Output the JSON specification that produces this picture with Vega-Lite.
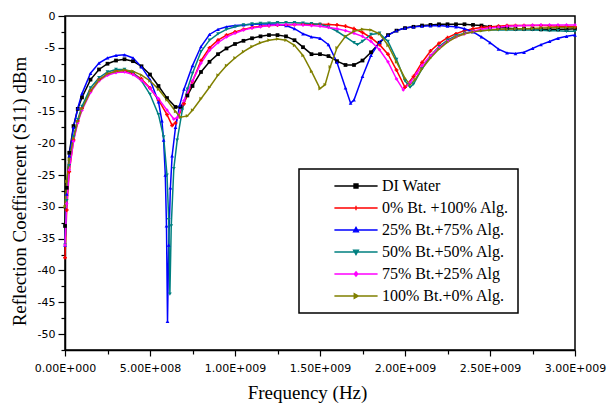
{
"$schema":"https://vega.github.io/schema/vega-lite/v6.json",
"autosize":{"type":"none"},
"padding":{"left":65,"top":16,"right":35,"bottom":54},
"width":510,"height":334,
"background":"white",
"config":{
 "view":{"stroke":"black","strokeWidth":1.5},
 "axis":{"grid":false,"domainColor":"black","domainWidth":1.5,"tickColor":"black","tickWidth":1.2,"labelColor":"black","titleColor":"black","titleFontWeight":"normal","labelFont":"DejaVu Sans","labelFontSize":11,"titleFont":"Liberation Serif","titleFontSize":19,"labelOverlap":false,"labelFlush":false}
},
"data":{"values":[
{"s":"DI Water","f":0,"v":-33},{"s":"DI Water","f":1e7,"v":-27},{"s":"DI Water","f":2.5e7,"v":-21.5},{"s":"DI Water","f":5e7,"v":-17.3},{"s":"DI Water","f":7.5e7,"v":-14.6},{"s":"DI Water","f":1e8,"v":-12.8},{"s":"DI Water","f":1.5e8,"v":-10.0},{"s":"DI Water","f":2e8,"v":-8.4},{"s":"DI Water","f":2.5e8,"v":-7.5},{"s":"DI Water","f":3e8,"v":-7.0},{"s":"DI Water","f":3.5e8,"v":-6.8},{"s":"DI Water","f":4e8,"v":-7.1},{"s":"DI Water","f":4.5e8,"v":-7.9},{"s":"DI Water","f":5e8,"v":-9.2},{"s":"DI Water","f":5.5e8,"v":-11.0},{"s":"DI Water","f":6e8,"v":-12.9},{"s":"DI Water","f":6.5e8,"v":-14.3},{"s":"DI Water","f":6.8e8,"v":-14.3},{"s":"DI Water","f":7.2e8,"v":-12.5},{"s":"DI Water","f":7.5e8,"v":-11.0},{"s":"DI Water","f":8e8,"v":-8.8},{"s":"DI Water","f":8.5e8,"v":-7.2},{"s":"DI Water","f":9e8,"v":-6.0},{"s":"DI Water","f":9.5e8,"v":-5.1},{"s":"DI Water","f":1e9,"v":-4.4},{"s":"DI Water","f":1.05e9,"v":-3.9},{"s":"DI Water","f":1.1e9,"v":-3.5},{"s":"DI Water","f":1.15e9,"v":-3.2},{"s":"DI Water","f":1.2e9,"v":-3.0},{"s":"DI Water","f":1.25e9,"v":-3.0},{"s":"DI Water","f":1.3e9,"v":-3.2},{"s":"DI Water","f":1.35e9,"v":-3.8},{"s":"DI Water","f":1.4e9,"v":-4.9},{"s":"DI Water","f":1.45e9,"v":-6.0},{"s":"DI Water","f":1.5e9,"v":-6.0},{"s":"DI Water","f":1.55e9,"v":-6.3},{"s":"DI Water","f":1.6e9,"v":-7.1},{"s":"DI Water","f":1.65e9,"v":-7.7},{"s":"DI Water","f":1.7e9,"v":-7.7},{"s":"DI Water","f":1.75e9,"v":-7.0},{"s":"DI Water","f":1.8e9,"v":-5.7},{"s":"DI Water","f":1.85e9,"v":-4.2},{"s":"DI Water","f":1.9e9,"v":-3.0},{"s":"DI Water","f":1.95e9,"v":-2.3},{"s":"DI Water","f":2e9,"v":-1.9},{"s":"DI Water","f":2.05e9,"v":-1.7},{"s":"DI Water","f":2.1e9,"v":-1.5},{"s":"DI Water","f":2.15e9,"v":-1.4},{"s":"DI Water","f":2.2e9,"v":-1.3},{"s":"DI Water","f":2.25e9,"v":-1.3},{"s":"DI Water","f":2.3e9,"v":-1.3},{"s":"DI Water","f":2.35e9,"v":-1.3},{"s":"DI Water","f":2.4e9,"v":-1.4},{"s":"DI Water","f":2.45e9,"v":-1.5},{"s":"DI Water","f":2.5e9,"v":-1.7},{"s":"DI Water","f":2.55e9,"v":-1.8},{"s":"DI Water","f":2.6e9,"v":-1.9},{"s":"DI Water","f":2.65e9,"v":-2.0},{"s":"DI Water","f":2.7e9,"v":-2.0},{"s":"DI Water","f":2.75e9,"v":-2.0},{"s":"DI Water","f":2.8e9,"v":-2.1},{"s":"DI Water","f":2.85e9,"v":-2.1},{"s":"DI Water","f":2.9e9,"v":-2.1},{"s":"DI Water","f":2.95e9,"v":-2.1},{"s":"DI Water","f":3e9,"v":-2.0},

{"s":"0% Bt. +100% Alg.","f":0,"v":-38},{"s":"0% Bt. +100% Alg.","f":1e7,"v":-30.5},{"s":"0% Bt. +100% Alg.","f":2.5e7,"v":-24.5},{"s":"0% Bt. +100% Alg.","f":5e7,"v":-19.5},{"s":"0% Bt. +100% Alg.","f":7.5e7,"v":-16.5},{"s":"0% Bt. +100% Alg.","f":1e8,"v":-14.5},{"s":"0% Bt. +100% Alg.","f":1.5e8,"v":-11.8},{"s":"0% Bt. +100% Alg.","f":2e8,"v":-10.0},{"s":"0% Bt. +100% Alg.","f":2.5e8,"v":-9.1},{"s":"0% Bt. +100% Alg.","f":3e8,"v":-8.7},{"s":"0% Bt. +100% Alg.","f":3.5e8,"v":-8.6},{"s":"0% Bt. +100% Alg.","f":4e8,"v":-9.0},{"s":"0% Bt. +100% Alg.","f":4.5e8,"v":-9.9},{"s":"0% Bt. +100% Alg.","f":5e8,"v":-11.3},{"s":"0% Bt. +100% Alg.","f":5.5e8,"v":-13.2},{"s":"0% Bt. +100% Alg.","f":6e8,"v":-15.5},{"s":"0% Bt. +100% Alg.","f":6.3e8,"v":-17.2},{"s":"0% Bt. +100% Alg.","f":6.5e8,"v":-16.8},{"s":"0% Bt. +100% Alg.","f":7e8,"v":-13.8},{"s":"0% Bt. +100% Alg.","f":7.5e8,"v":-10.3},{"s":"0% Bt. +100% Alg.","f":8e8,"v":-7.0},{"s":"0% Bt. +100% Alg.","f":8.5e8,"v":-5.0},{"s":"0% Bt. +100% Alg.","f":9e8,"v":-3.8},{"s":"0% Bt. +100% Alg.","f":9.5e8,"v":-3.0},{"s":"0% Bt. +100% Alg.","f":1e9,"v":-2.5},{"s":"0% Bt. +100% Alg.","f":1.05e9,"v":-2.1},{"s":"0% Bt. +100% Alg.","f":1.1e9,"v":-1.8},{"s":"0% Bt. +100% Alg.","f":1.15e9,"v":-1.6},{"s":"0% Bt. +100% Alg.","f":1.2e9,"v":-1.5},{"s":"0% Bt. +100% Alg.","f":1.25e9,"v":-1.45},{"s":"0% Bt. +100% Alg.","f":1.3e9,"v":-1.4},{"s":"0% Bt. +100% Alg.","f":1.35e9,"v":-1.35},{"s":"0% Bt. +100% Alg.","f":1.4e9,"v":-1.3},{"s":"0% Bt. +100% Alg.","f":1.45e9,"v":-1.3},{"s":"0% Bt. +100% Alg.","f":1.5e9,"v":-1.3},{"s":"0% Bt. +100% Alg.","f":1.55e9,"v":-1.35},{"s":"0% Bt. +100% Alg.","f":1.6e9,"v":-1.4},{"s":"0% Bt. +100% Alg.","f":1.65e9,"v":-1.6},{"s":"0% Bt. +100% Alg.","f":1.7e9,"v":-2.0},{"s":"0% Bt. +100% Alg.","f":1.75e9,"v":-2.6},{"s":"0% Bt. +100% Alg.","f":1.8e9,"v":-3.4},{"s":"0% Bt. +100% Alg.","f":1.85e9,"v":-4.5},{"s":"0% Bt. +100% Alg.","f":1.9e9,"v":-6.0},{"s":"0% Bt. +100% Alg.","f":1.95e9,"v":-8.5},{"s":"0% Bt. +100% Alg.","f":2e9,"v":-11.2},{"s":"0% Bt. +100% Alg.","f":2.05e9,"v":-9.5},{"s":"0% Bt. +100% Alg.","f":2.1e9,"v":-7.3},{"s":"0% Bt. +100% Alg.","f":2.15e9,"v":-5.5},{"s":"0% Bt. +100% Alg.","f":2.2e9,"v":-4.3},{"s":"0% Bt. +100% Alg.","f":2.25e9,"v":-3.4},{"s":"0% Bt. +100% Alg.","f":2.3e9,"v":-2.8},{"s":"0% Bt. +100% Alg.","f":2.35e9,"v":-2.3},{"s":"0% Bt. +100% Alg.","f":2.4e9,"v":-2.0},{"s":"0% Bt. +100% Alg.","f":2.45e9,"v":-1.8},{"s":"0% Bt. +100% Alg.","f":2.5e9,"v":-1.7},{"s":"0% Bt. +100% Alg.","f":2.55e9,"v":-1.6},{"s":"0% Bt. +100% Alg.","f":2.6e9,"v":-1.5},{"s":"0% Bt. +100% Alg.","f":2.65e9,"v":-1.5},{"s":"0% Bt. +100% Alg.","f":2.7e9,"v":-1.5},{"s":"0% Bt. +100% Alg.","f":2.75e9,"v":-1.5},{"s":"0% Bt. +100% Alg.","f":2.8e9,"v":-1.5},{"s":"0% Bt. +100% Alg.","f":2.85e9,"v":-1.55},{"s":"0% Bt. +100% Alg.","f":2.9e9,"v":-1.6},{"s":"0% Bt. +100% Alg.","f":2.95e9,"v":-1.65},{"s":"0% Bt. +100% Alg.","f":3e9,"v":-1.7},

{"s":"25% Bt.+75% Alg.","f":0,"v":-36},{"s":"25% Bt.+75% Alg.","f":1e7,"v":-28},{"s":"25% Bt.+75% Alg.","f":2.5e7,"v":-22},{"s":"25% Bt.+75% Alg.","f":5e7,"v":-17.5},{"s":"25% Bt.+75% Alg.","f":7.5e7,"v":-14.5},{"s":"25% Bt.+75% Alg.","f":1e8,"v":-12.2},{"s":"25% Bt.+75% Alg.","f":1.5e8,"v":-9.0},{"s":"25% Bt.+75% Alg.","f":2e8,"v":-7.4},{"s":"25% Bt.+75% Alg.","f":2.5e8,"v":-6.6},{"s":"25% Bt.+75% Alg.","f":3e8,"v":-6.2},{"s":"25% Bt.+75% Alg.","f":3.5e8,"v":-6.1},{"s":"25% Bt.+75% Alg.","f":4e8,"v":-6.6},{"s":"25% Bt.+75% Alg.","f":4.5e8,"v":-8.0},{"s":"25% Bt.+75% Alg.","f":5e8,"v":-10.0},{"s":"25% Bt.+75% Alg.","f":5.5e8,"v":-13.5},{"s":"25% Bt.+75% Alg.","f":5.7e8,"v":-16.5},{"s":"25% Bt.+75% Alg.","f":5.8e8,"v":-19.5},{"s":"25% Bt.+75% Alg.","f":5.9e8,"v":-25},{"s":"25% Bt.+75% Alg.","f":5.97e8,"v":-33},{"s":"25% Bt.+75% Alg.","f":6.03e8,"v":-48},{"s":"25% Bt.+75% Alg.","f":6.1e8,"v":-36},{"s":"25% Bt.+75% Alg.","f":6.2e8,"v":-27},{"s":"25% Bt.+75% Alg.","f":6.3e8,"v":-22},{"s":"25% Bt.+75% Alg.","f":6.5e8,"v":-17.5},{"s":"25% Bt.+75% Alg.","f":6.75e8,"v":-14},{"s":"25% Bt.+75% Alg.","f":7e8,"v":-11.5},{"s":"25% Bt.+75% Alg.","f":7.5e8,"v":-7.8},{"s":"25% Bt.+75% Alg.","f":8e8,"v":-4.8},{"s":"25% Bt.+75% Alg.","f":8.5e8,"v":-2.9},{"s":"25% Bt.+75% Alg.","f":9e8,"v":-2.1},{"s":"25% Bt.+75% Alg.","f":9.5e8,"v":-1.7},{"s":"25% Bt.+75% Alg.","f":1e9,"v":-1.5},{"s":"25% Bt.+75% Alg.","f":1.05e9,"v":-1.4},{"s":"25% Bt.+75% Alg.","f":1.1e9,"v":-1.3},{"s":"25% Bt.+75% Alg.","f":1.15e9,"v":-1.25},{"s":"25% Bt.+75% Alg.","f":1.2e9,"v":-1.25},{"s":"25% Bt.+75% Alg.","f":1.25e9,"v":-1.3},{"s":"25% Bt.+75% Alg.","f":1.3e9,"v":-1.5},{"s":"25% Bt.+75% Alg.","f":1.35e9,"v":-2.0},{"s":"25% Bt.+75% Alg.","f":1.4e9,"v":-2.8},{"s":"25% Bt.+75% Alg.","f":1.45e9,"v":-3.3},{"s":"25% Bt.+75% Alg.","f":1.5e9,"v":-3.5},{"s":"25% Bt.+75% Alg.","f":1.55e9,"v":-4.5},{"s":"25% Bt.+75% Alg.","f":1.6e9,"v":-7.3},{"s":"25% Bt.+75% Alg.","f":1.65e9,"v":-11.3},{"s":"25% Bt.+75% Alg.","f":1.68e9,"v":-13.7},{"s":"25% Bt.+75% Alg.","f":1.7e9,"v":-13.2},{"s":"25% Bt.+75% Alg.","f":1.75e9,"v":-9.5},{"s":"25% Bt.+75% Alg.","f":1.8e9,"v":-6.2},{"s":"25% Bt.+75% Alg.","f":1.85e9,"v":-4.1},{"s":"25% Bt.+75% Alg.","f":1.9e9,"v":-3.0},{"s":"25% Bt.+75% Alg.","f":1.95e9,"v":-2.3},{"s":"25% Bt.+75% Alg.","f":2e9,"v":-1.9},{"s":"25% Bt.+75% Alg.","f":2.05e9,"v":-1.7},{"s":"25% Bt.+75% Alg.","f":2.1e9,"v":-1.6},{"s":"25% Bt.+75% Alg.","f":2.15e9,"v":-1.55},{"s":"25% Bt.+75% Alg.","f":2.2e9,"v":-1.5},{"s":"25% Bt.+75% Alg.","f":2.25e9,"v":-1.6},{"s":"25% Bt.+75% Alg.","f":2.3e9,"v":-1.7},{"s":"25% Bt.+75% Alg.","f":2.35e9,"v":-2.0},{"s":"25% Bt.+75% Alg.","f":2.4e9,"v":-2.5},{"s":"25% Bt.+75% Alg.","f":2.45e9,"v":-3.3},{"s":"25% Bt.+75% Alg.","f":2.5e9,"v":-4.2},{"s":"25% Bt.+75% Alg.","f":2.55e9,"v":-5.2},{"s":"25% Bt.+75% Alg.","f":2.6e9,"v":-5.8},{"s":"25% Bt.+75% Alg.","f":2.65e9,"v":-5.9},{"s":"25% Bt.+75% Alg.","f":2.7e9,"v":-5.7},{"s":"25% Bt.+75% Alg.","f":2.75e9,"v":-5.1},{"s":"25% Bt.+75% Alg.","f":2.8e9,"v":-4.5},{"s":"25% Bt.+75% Alg.","f":2.85e9,"v":-4.0},{"s":"25% Bt.+75% Alg.","f":2.9e9,"v":-3.5},{"s":"25% Bt.+75% Alg.","f":2.95e9,"v":-3.2},{"s":"25% Bt.+75% Alg.","f":3e9,"v":-3.0},

{"s":"50% Bt.+50% Alg.","f":0,"v":-36},{"s":"50% Bt.+50% Alg.","f":1e7,"v":-29},{"s":"50% Bt.+50% Alg.","f":2.5e7,"v":-23.5},{"s":"50% Bt.+50% Alg.","f":5e7,"v":-19},{"s":"50% Bt.+50% Alg.","f":7.5e7,"v":-16.3},{"s":"50% Bt.+50% Alg.","f":1e8,"v":-14.2},{"s":"50% Bt.+50% Alg.","f":1.5e8,"v":-11.3},{"s":"50% Bt.+50% Alg.","f":2e8,"v":-9.7},{"s":"50% Bt.+50% Alg.","f":2.5e8,"v":-8.8},{"s":"50% Bt.+50% Alg.","f":3e8,"v":-8.4},{"s":"50% Bt.+50% Alg.","f":3.5e8,"v":-8.4},{"s":"50% Bt.+50% Alg.","f":4e8,"v":-8.9},{"s":"50% Bt.+50% Alg.","f":4.5e8,"v":-10.2},{"s":"50% Bt.+50% Alg.","f":5e8,"v":-12.3},{"s":"50% Bt.+50% Alg.","f":5.5e8,"v":-15.5},{"s":"50% Bt.+50% Alg.","f":5.8e8,"v":-19},{"s":"50% Bt.+50% Alg.","f":6e8,"v":-25},{"s":"50% Bt.+50% Alg.","f":6.1e8,"v":-32},{"s":"50% Bt.+50% Alg.","f":6.17e8,"v":-43.7},{"s":"50% Bt.+50% Alg.","f":6.25e8,"v":-33},{"s":"50% Bt.+50% Alg.","f":6.4e8,"v":-24},{"s":"50% Bt.+50% Alg.","f":6.6e8,"v":-19.5},{"s":"50% Bt.+50% Alg.","f":6.9e8,"v":-14.8},{"s":"50% Bt.+50% Alg.","f":7.2e8,"v":-11.5},{"s":"50% Bt.+50% Alg.","f":7.5e8,"v":-9.0},{"s":"50% Bt.+50% Alg.","f":8e8,"v":-5.6},{"s":"50% Bt.+50% Alg.","f":8.5e8,"v":-3.8},{"s":"50% Bt.+50% Alg.","f":9e8,"v":-2.8},{"s":"50% Bt.+50% Alg.","f":9.5e8,"v":-2.1},{"s":"50% Bt.+50% Alg.","f":1e9,"v":-1.7},{"s":"50% Bt.+50% Alg.","f":1.05e9,"v":-1.4},{"s":"50% Bt.+50% Alg.","f":1.1e9,"v":-1.25},{"s":"50% Bt.+50% Alg.","f":1.15e9,"v":-1.15},{"s":"50% Bt.+50% Alg.","f":1.2e9,"v":-1.1},{"s":"50% Bt.+50% Alg.","f":1.25e9,"v":-1.05},{"s":"50% Bt.+50% Alg.","f":1.3e9,"v":-1.05},{"s":"50% Bt.+50% Alg.","f":1.35e9,"v":-1.05},{"s":"50% Bt.+50% Alg.","f":1.4e9,"v":-1.1},{"s":"50% Bt.+50% Alg.","f":1.45e9,"v":-1.2},{"s":"50% Bt.+50% Alg.","f":1.5e9,"v":-1.3},{"s":"50% Bt.+50% Alg.","f":1.55e9,"v":-1.7},{"s":"50% Bt.+50% Alg.","f":1.6e9,"v":-2.4},{"s":"50% Bt.+50% Alg.","f":1.65e9,"v":-3.3},{"s":"50% Bt.+50% Alg.","f":1.7e9,"v":-4.2},{"s":"50% Bt.+50% Alg.","f":1.72e9,"v":-4.5},{"s":"50% Bt.+50% Alg.","f":1.75e9,"v":-4.0},{"s":"50% Bt.+50% Alg.","f":1.8e9,"v":-2.9},{"s":"50% Bt.+50% Alg.","f":1.85e9,"v":-2.7},{"s":"50% Bt.+50% Alg.","f":1.9e9,"v":-4.0},{"s":"50% Bt.+50% Alg.","f":1.95e9,"v":-6.8},{"s":"50% Bt.+50% Alg.","f":2e9,"v":-10.2},{"s":"50% Bt.+50% Alg.","f":2.03e9,"v":-11.2},{"s":"50% Bt.+50% Alg.","f":2.05e9,"v":-10.7},{"s":"50% Bt.+50% Alg.","f":2.1e9,"v":-8.3},{"s":"50% Bt.+50% Alg.","f":2.15e9,"v":-6.3},{"s":"50% Bt.+50% Alg.","f":2.2e9,"v":-4.8},{"s":"50% Bt.+50% Alg.","f":2.25e9,"v":-3.8},{"s":"50% Bt.+50% Alg.","f":2.3e9,"v":-3.1},{"s":"50% Bt.+50% Alg.","f":2.35e9,"v":-2.7},{"s":"50% Bt.+50% Alg.","f":2.4e9,"v":-2.4},{"s":"50% Bt.+50% Alg.","f":2.45e9,"v":-2.3},{"s":"50% Bt.+50% Alg.","f":2.5e9,"v":-2.2},{"s":"50% Bt.+50% Alg.","f":2.55e9,"v":-2.2},{"s":"50% Bt.+50% Alg.","f":2.6e9,"v":-2.2},{"s":"50% Bt.+50% Alg.","f":2.65e9,"v":-2.2},{"s":"50% Bt.+50% Alg.","f":2.7e9,"v":-2.2},{"s":"50% Bt.+50% Alg.","f":2.75e9,"v":-2.2},{"s":"50% Bt.+50% Alg.","f":2.8e9,"v":-2.25},{"s":"50% Bt.+50% Alg.","f":2.85e9,"v":-2.3},{"s":"50% Bt.+50% Alg.","f":2.9e9,"v":-2.3},{"s":"50% Bt.+50% Alg.","f":2.95e9,"v":-2.4},{"s":"50% Bt.+50% Alg.","f":3e9,"v":-2.4},

{"s":"75% Bt.+25% Alg","f":0,"v":-36},{"s":"75% Bt.+25% Alg","f":1e7,"v":-29.5},{"s":"75% Bt.+25% Alg","f":2.5e7,"v":-24.2},{"s":"75% Bt.+25% Alg","f":5e7,"v":-19.7},{"s":"75% Bt.+25% Alg","f":7.5e7,"v":-16.8},{"s":"75% Bt.+25% Alg","f":1e8,"v":-14.8},{"s":"75% Bt.+25% Alg","f":1.5e8,"v":-12.0},{"s":"75% Bt.+25% Alg","f":2e8,"v":-10.2},{"s":"75% Bt.+25% Alg","f":2.5e8,"v":-9.3},{"s":"75% Bt.+25% Alg","f":3e8,"v":-8.9},{"s":"75% Bt.+25% Alg","f":3.5e8,"v":-8.8},{"s":"75% Bt.+25% Alg","f":4e8,"v":-9.2},{"s":"75% Bt.+25% Alg","f":4.5e8,"v":-10.1},{"s":"75% Bt.+25% Alg","f":5e8,"v":-11.4},{"s":"75% Bt.+25% Alg","f":5.5e8,"v":-13.0},{"s":"75% Bt.+25% Alg","f":6e8,"v":-14.8},{"s":"75% Bt.+25% Alg","f":6.4e8,"v":-16.2},{"s":"75% Bt.+25% Alg","f":6.6e8,"v":-16.0},{"s":"75% Bt.+25% Alg","f":7e8,"v":-13.3},{"s":"75% Bt.+25% Alg","f":7.5e8,"v":-10.2},{"s":"75% Bt.+25% Alg","f":8e8,"v":-7.4},{"s":"75% Bt.+25% Alg","f":8.5e8,"v":-5.4},{"s":"75% Bt.+25% Alg","f":9e8,"v":-4.2},{"s":"75% Bt.+25% Alg","f":9.5e8,"v":-3.3},{"s":"75% Bt.+25% Alg","f":1e9,"v":-2.7},{"s":"75% Bt.+25% Alg","f":1.05e9,"v":-2.2},{"s":"75% Bt.+25% Alg","f":1.1e9,"v":-1.9},{"s":"75% Bt.+25% Alg","f":1.15e9,"v":-1.7},{"s":"75% Bt.+25% Alg","f":1.2e9,"v":-1.5},{"s":"75% Bt.+25% Alg","f":1.25e9,"v":-1.4},{"s":"75% Bt.+25% Alg","f":1.3e9,"v":-1.35},{"s":"75% Bt.+25% Alg","f":1.35e9,"v":-1.35},{"s":"75% Bt.+25% Alg","f":1.4e9,"v":-1.4},{"s":"75% Bt.+25% Alg","f":1.45e9,"v":-1.5},{"s":"75% Bt.+25% Alg","f":1.5e9,"v":-1.6},{"s":"75% Bt.+25% Alg","f":1.55e9,"v":-1.8},{"s":"75% Bt.+25% Alg","f":1.6e9,"v":-2.0},{"s":"75% Bt.+25% Alg","f":1.65e9,"v":-2.3},{"s":"75% Bt.+25% Alg","f":1.7e9,"v":-2.7},{"s":"75% Bt.+25% Alg","f":1.75e9,"v":-3.2},{"s":"75% Bt.+25% Alg","f":1.8e9,"v":-4.0},{"s":"75% Bt.+25% Alg","f":1.85e9,"v":-5.3},{"s":"75% Bt.+25% Alg","f":1.9e9,"v":-7.2},{"s":"75% Bt.+25% Alg","f":1.95e9,"v":-9.9},{"s":"75% Bt.+25% Alg","f":1.99e9,"v":-11.6},{"s":"75% Bt.+25% Alg","f":2.03e9,"v":-10.5},{"s":"75% Bt.+25% Alg","f":2.07e9,"v":-9.0},{"s":"75% Bt.+25% Alg","f":2.1e9,"v":-7.8},{"s":"75% Bt.+25% Alg","f":2.15e9,"v":-6.2},{"s":"75% Bt.+25% Alg","f":2.2e9,"v":-5.0},{"s":"75% Bt.+25% Alg","f":2.25e9,"v":-4.0},{"s":"75% Bt.+25% Alg","f":2.3e9,"v":-3.3},{"s":"75% Bt.+25% Alg","f":2.35e9,"v":-2.8},{"s":"75% Bt.+25% Alg","f":2.4e9,"v":-2.4},{"s":"75% Bt.+25% Alg","f":2.45e9,"v":-2.1},{"s":"75% Bt.+25% Alg","f":2.5e9,"v":-1.9},{"s":"75% Bt.+25% Alg","f":2.55e9,"v":-1.75},{"s":"75% Bt.+25% Alg","f":2.6e9,"v":-1.6},{"s":"75% Bt.+25% Alg","f":2.65e9,"v":-1.55},{"s":"75% Bt.+25% Alg","f":2.7e9,"v":-1.5},{"s":"75% Bt.+25% Alg","f":2.75e9,"v":-1.45},{"s":"75% Bt.+25% Alg","f":2.8e9,"v":-1.4},{"s":"75% Bt.+25% Alg","f":2.85e9,"v":-1.4},{"s":"75% Bt.+25% Alg","f":2.9e9,"v":-1.4},{"s":"75% Bt.+25% Alg","f":2.95e9,"v":-1.4},{"s":"75% Bt.+25% Alg","f":3e9,"v":-1.4},

{"s":"100% Bt.+0% Alg.","f":0,"v":-30},{"s":"100% Bt.+0% Alg.","f":1e7,"v":-26},{"s":"100% Bt.+0% Alg.","f":2.5e7,"v":-22.5},{"s":"100% Bt.+0% Alg.","f":5e7,"v":-19.2},{"s":"100% Bt.+0% Alg.","f":7.5e7,"v":-16.6},{"s":"100% Bt.+0% Alg.","f":1e8,"v":-14.6},{"s":"100% Bt.+0% Alg.","f":1.5e8,"v":-11.8},{"s":"100% Bt.+0% Alg.","f":2e8,"v":-10.1},{"s":"100% Bt.+0% Alg.","f":2.5e8,"v":-9.1},{"s":"100% Bt.+0% Alg.","f":3e8,"v":-8.7},{"s":"100% Bt.+0% Alg.","f":3.5e8,"v":-8.5},{"s":"100% Bt.+0% Alg.","f":4e8,"v":-8.7},{"s":"100% Bt.+0% Alg.","f":4.5e8,"v":-9.3},{"s":"100% Bt.+0% Alg.","f":5e8,"v":-10.2},{"s":"100% Bt.+0% Alg.","f":5.5e8,"v":-11.5},{"s":"100% Bt.+0% Alg.","f":6e8,"v":-13.2},{"s":"100% Bt.+0% Alg.","f":6.5e8,"v":-15.0},{"s":"100% Bt.+0% Alg.","f":6.8e8,"v":-15.9},{"s":"100% Bt.+0% Alg.","f":7.2e8,"v":-15.7},{"s":"100% Bt.+0% Alg.","f":7.5e8,"v":-14.8},{"s":"100% Bt.+0% Alg.","f":8e8,"v":-13.0},{"s":"100% Bt.+0% Alg.","f":8.5e8,"v":-11.2},{"s":"100% Bt.+0% Alg.","f":9e8,"v":-9.3},{"s":"100% Bt.+0% Alg.","f":9.5e8,"v":-7.8},{"s":"100% Bt.+0% Alg.","f":1e9,"v":-6.6},{"s":"100% Bt.+0% Alg.","f":1.05e9,"v":-5.6},{"s":"100% Bt.+0% Alg.","f":1.1e9,"v":-4.8},{"s":"100% Bt.+0% Alg.","f":1.15e9,"v":-4.2},{"s":"100% Bt.+0% Alg.","f":1.2e9,"v":-3.8},{"s":"100% Bt.+0% Alg.","f":1.25e9,"v":-3.6},{"s":"100% Bt.+0% Alg.","f":1.3e9,"v":-3.8},{"s":"100% Bt.+0% Alg.","f":1.35e9,"v":-4.6},{"s":"100% Bt.+0% Alg.","f":1.4e9,"v":-6.2},{"s":"100% Bt.+0% Alg.","f":1.45e9,"v":-8.7},{"s":"100% Bt.+0% Alg.","f":1.5e9,"v":-11.4},{"s":"100% Bt.+0% Alg.","f":1.53e9,"v":-10.8},{"s":"100% Bt.+0% Alg.","f":1.56e9,"v":-8.0},{"s":"100% Bt.+0% Alg.","f":1.6e9,"v":-5.0},{"s":"100% Bt.+0% Alg.","f":1.65e9,"v":-3.2},{"s":"100% Bt.+0% Alg.","f":1.7e9,"v":-2.4},{"s":"100% Bt.+0% Alg.","f":1.75e9,"v":-2.1},{"s":"100% Bt.+0% Alg.","f":1.8e9,"v":-2.2},{"s":"100% Bt.+0% Alg.","f":1.85e9,"v":-2.8},{"s":"100% Bt.+0% Alg.","f":1.9e9,"v":-4.6},{"s":"100% Bt.+0% Alg.","f":1.95e9,"v":-7.2},{"s":"100% Bt.+0% Alg.","f":2e9,"v":-9.8},{"s":"100% Bt.+0% Alg.","f":2.03e9,"v":-10.8},{"s":"100% Bt.+0% Alg.","f":2.06e9,"v":-10.0},{"s":"100% Bt.+0% Alg.","f":2.1e9,"v":-8.3},{"s":"100% Bt.+0% Alg.","f":2.15e9,"v":-6.6},{"s":"100% Bt.+0% Alg.","f":2.2e9,"v":-5.2},{"s":"100% Bt.+0% Alg.","f":2.25e9,"v":-4.1},{"s":"100% Bt.+0% Alg.","f":2.3e9,"v":-3.3},{"s":"100% Bt.+0% Alg.","f":2.35e9,"v":-2.8},{"s":"100% Bt.+0% Alg.","f":2.4e9,"v":-2.5},{"s":"100% Bt.+0% Alg.","f":2.45e9,"v":-2.3},{"s":"100% Bt.+0% Alg.","f":2.5e9,"v":-2.2},{"s":"100% Bt.+0% Alg.","f":2.55e9,"v":-2.1},{"s":"100% Bt.+0% Alg.","f":2.6e9,"v":-2.1},{"s":"100% Bt.+0% Alg.","f":2.65e9,"v":-2.0},{"s":"100% Bt.+0% Alg.","f":2.7e9,"v":-2.0},{"s":"100% Bt.+0% Alg.","f":2.75e9,"v":-1.95},{"s":"100% Bt.+0% Alg.","f":2.8e9,"v":-1.9},{"s":"100% Bt.+0% Alg.","f":2.85e9,"v":-1.85},{"s":"100% Bt.+0% Alg.","f":2.9e9,"v":-1.8},{"s":"100% Bt.+0% Alg.","f":2.95e9,"v":-1.8},{"s":"100% Bt.+0% Alg.","f":3e9,"v":-1.8}
]},
"encoding":{
 "x":{"field":"f","type":"quantitative","scale":{"domain":[0,3000000000],"nice":false,"zero":false},
  "axis":{"title":"Frequency (Hz)","values":[0,250000000,500000000,750000000,1000000000,1250000000,1500000000,1750000000,2000000000,2250000000,2500000000,2750000000,3000000000],
   "labelExpr":"datum.value % 500000000 !== 0 ? '' : datum.value === 0 ? '0.00E+000' : datum.value < 1000000000 ? format(datum.value/100000000,'.2f') + 'E+008' : format(datum.value/1000000000,'.2f') + 'E+009'",
   "tickSize":{"condition":{"test":"datum.value % 500000000 === 0","value":6},"value":4},
   "labelPadding":6,"titlePadding":10,"titleX":242}},
 "y":{"field":"v","type":"quantitative","scale":{"domain":[-52.5,0],"nice":false,"zero":false},
  "axis":{"title":"Reflection Coeffiencent (S11) dBm","values":[-52.5,-50,-47.5,-45,-42.5,-40,-37.5,-35,-32.5,-30,-27.5,-25,-22.5,-20,-17.5,-15,-12.5,-10,-7.5,-5,-2.5,0],
   "labelExpr":"datum.value % 5 === 0 ? '' + datum.value : ''",
   "tickSize":{"condition":{"test":"datum.value % 5 === 0","value":7},"value":4},
   "labelPadding":3,"titlePadding":8,"titleY":175}},
 "color":{"field":"s","type":"nominal",
  "scale":{"domain":["DI Water","0% Bt. +100% Alg.","25% Bt.+75% Alg.","50% Bt.+50% Alg.","75% Bt.+25% Alg","100% Bt.+0% Alg."],"range":["#000000","#ff0000","#0000ff","#008080","#ff00ff","#808000"]}}
},
"layer":[
 {"mark":{"type":"line","strokeWidth":1.5},
  "encoding":{"order":{"field":"f","type":"quantitative"},
   "color":{"field":"s","type":"nominal",
    "legend":{"orient":"none","legendX":234,"legendY":153,"title":null,"direction":"vertical","padding":9,"rowPadding":6,
     "strokeColor":"black","fillColor":"white","labelFont":"Liberation Serif","labelFontSize":16,"labelColor":"black",
     "symbolType":"M-4.8,0H4.8","symbolSize":81,"symbolStrokeWidth":1.3,"symbolOffset":40,"labelOffset":18,
     "encode":{"legend":{"update":{"strokeWidth":{"value":1.5}}},
      "symbols":{"update":{
       "shape":{"signal":"datum.value === 'DI Water' ? 'M-4.8,0H4.8M-0.45,-0.45H0.45V0.45H-0.45Z' : datum.value === '0% Bt. +100% Alg.' ? 'M-4.8,0H4.8M0,-0.5V0.5' : datum.value === '25% Bt.+75% Alg.' ? 'M-4.8,0H4.8M0,-0.6L0.55,0.4H-0.55Z' : datum.value === '50% Bt.+50% Alg.' ? 'M-4.8,0H4.8M0,0.6L0.55,-0.4H-0.55Z' : datum.value === '75% Bt.+25% Alg' ? 'M-4.8,0H4.8M0,-0.5L0.4,0L0,0.5L-0.4,0Z' : 'M-4.8,0H4.8M0.55,0L-0.4,-0.55V0.55Z'"},
       "fill":{"scale":"color","field":"value"},
       "stroke":{"scale":"color","field":"value"}}}}}}}},
 {"mark":{"type":"point","filled":true,"size":14,"opacity":1,
   "shape":{"expr":"datum.s === 'DI Water' ? 'square' : datum.s === '0% Bt. +100% Alg.' ? 'cross' : datum.s === '25% Bt.+75% Alg.' ? 'triangle-up' : datum.s === '50% Bt.+50% Alg.' ? 'triangle-down' : datum.s === '75% Bt.+25% Alg' ? 'diamond' : 'triangle-right'"}},
  "encoding":{
   "color":{"field":"s","type":"nominal","legend":null}}}
]
}
